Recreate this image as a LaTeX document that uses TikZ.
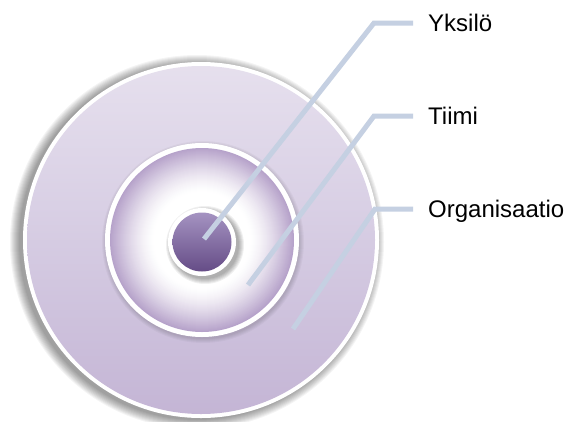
\documentclass[tikz,border=0pt]{standalone}
\usepackage{fontspec}
\setmainfont{Liberation Sans}
\definecolor{linec}{HTML}{C5D0E2}
\definecolor{midp}{HTML}{B6A2CA}
\definecolor{otop}{HTML}{F6F3F8}
\definecolor{omid}{HTML}{D9D0E5}
\definecolor{olow}{HTML}{C4B5D5}
\definecolor{obot}{HTML}{D6CDE3}
\definecolor{itop}{HTML}{AB9AC8}
\definecolor{ibot}{HTML}{5F4580}
\pgfdeclareverticalshading{outsh}{100bp}{color(0bp)=(obot); color(8bp)=(olow); color(25bp)=(olow); color(55bp)=(omid); color(100bp)=(otop)}
\pgfdeclareverticalshading{insh}{100bp}{color(0bp)=(ibot); color(20bp)=(ibot); color(80bp)=(itop); color(100bp)=(itop)}
\tikzset{
  leader/.style={draw=linec, line width=5pt},
  lab/.style={anchor=west, inner sep=0pt, text height=17.2pt, text depth=0pt, font=\fontsize{24}{28}\selectfont},
}
\begin{document}
\begin{tikzpicture}[x=1pt,y=-1pt]
\useasboundingbox[fill=white] (0,0) rectangle (564,421);
% outer shadow
\foreach \i in {1,...,10}{
  \fill[black, opacity=0.045] (197,242) circle ({177+\i});
}
\fill[white] (201,240) circle (178);
\path[shading=outsh] (201,240) circle (174);
\node[circle, minimum size=348pt, inner sep=0pt] (org) at (201,240) {};
% middle circle
\foreach \i in {1,...,5}{
  \fill[black, opacity=0.03] (203,242) circle ({96+\i});
}
\fill[white] (202,240) circle (97);
\foreach \r in {92,91,...,48}{
  \pgfmathsetmacro\p{100*((\r-48)/44)^1.4}
  \fill[midp!\p!white] (202,240) circle (\r);
}
\node[circle, minimum size=184pt, inner sep=0pt] (team) at (202,240) {};
% inner circle
\foreach \i in {1,...,6}{
  \fill[black, opacity=0.06] (205,245) circle ({33+\i});
}
\fill[white] (202,242) circle (34);
\path[shading=insh] (202,242) circle (29.5);
\node[circle, minimum size=59pt, inner sep=0pt] (ind) at (202,242) {};
% labels
\node[lab] (l1) at (428,23) {Yksilö};
\node[lab] (l2) at (428,116) {Tiimi};
\node[lab] (l3) at (428,209) {Organisaatio};
% leaders
\coordinate (s1) at (204,239);
\coordinate (s2) at (248,285);
\coordinate (s3) at (293,329);
\coordinate (e1) at (374,23);
\coordinate (e2) at (374,116);
\coordinate (e3) at (375,209);
\draw[leader] (s1) -- (e1) -- ([xshift=-15pt]l1.west);
\draw[leader] (s2) -- (e2) -- ([xshift=-15pt]l2.west);
\draw[leader] (s3) -- (e3) -- ([xshift=-15pt]l3.west);
\end{tikzpicture}
\end{document}
